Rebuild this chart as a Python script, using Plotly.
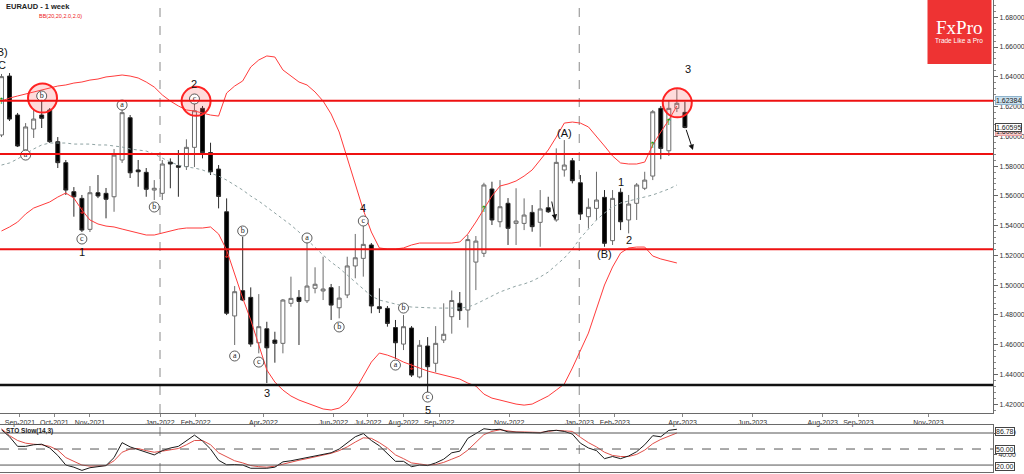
import pandas as pd
import plotly.graph_objects as go

# ---------------- data ----------------
start = pd.Timestamp("2021-08-16")
dates = pd.date_range(start, periods=86, freq="7D")

opens = [1.6009,1.6405,1.6143,1.5908,1.6049,1.6143,1.6177,1.5964,1.5823,1.5628,
         1.5583,1.5375,1.5621,1.5617,1.5594,1.5841,1.6125,1.5774,1.5758,1.5639,
         1.5617,1.5827,1.5803,1.5797,1.5926,1.6188,1.5891,1.5780,1.5493,1.4793,
         1.4963,1.4918,1.4613,1.4707,1.4631,1.4609,1.4878,1.4918,1.4895,1.4979,
         1.4961,1.4983,1.4848,1.4934,1.5129,1.5180,1.5270,1.4855,1.4844,1.4715,
         1.4604,1.4712,1.4383,1.4591,1.4475,1.4631,1.4788,1.4878,1.4833,1.5155,
         1.5214,1.5646,1.5426,1.5550,1.5415,1.5415,1.5489,1.5422,1.5520,1.5438,
         1.5774,1.5836,1.5688,1.5460,1.5516,1.5590,1.5299,1.5624,1.5438,1.5550,
         1.5651,1.5733,1.6188,1.5903,1.6188,1.6161]
highs = [1.6419,1.6425,1.6157,1.6089,1.6177,1.6251,1.6190,1.5995,1.5841,1.5659,
         1.5606,1.5666,1.5740,1.5653,1.5915,1.6182,1.6143,1.5841,1.5787,1.5706,
         1.5841,1.5852,1.5908,1.5980,1.6264,1.6204,1.5957,1.5807,1.5583,1.4994,
         1.5325,1.4985,1.4940,1.4754,1.4687,1.4907,1.5057,1.4967,1.5292,1.5120,
         1.5191,1.5008,1.4994,1.5191,1.5344,1.5397,1.5283,1.4979,1.4860,1.4766,
         1.4799,1.4725,1.4631,1.4651,1.4725,1.4878,1.4964,1.4954,1.5337,1.5330,
         1.5688,1.5695,1.5706,1.5585,1.5651,1.5583,1.5538,1.5639,1.5594,1.5919,
         1.5975,1.5854,1.5740,1.5583,1.5762,1.5639,1.5639,1.5651,1.5606,1.5686,
         1.5762,1.6177,1.6204,1.6244,1.6316,1.6233]
lows = [1.5995,1.6103,1.5928,1.5895,1.5989,1.6056,1.5955,1.5787,1.5606,1.5460,
        1.5357,1.5357,1.5585,1.5449,1.5493,1.5821,1.5720,1.5661,1.5594,1.5572,
        1.5572,1.5651,1.5594,1.5774,1.5794,1.5852,1.5740,1.5516,1.4799,1.4598,
        1.4893,1.4586,1.4542,1.4342,1.4479,1.4542,1.4855,1.4598,1.4880,1.4945,
        1.4900,1.4766,1.4777,1.4913,1.5046,1.5057,1.4811,1.4813,1.4721,1.4504,
        1.4564,1.4383,1.4374,1.4278,1.4414,1.4611,1.4674,1.4766,1.4715,1.4967,
        1.5189,1.5404,1.5389,1.5270,1.5270,1.5370,1.5359,1.5258,1.5485,1.5426,
        1.5729,1.5684,1.5438,1.5382,1.5438,1.5258,1.5270,1.5370,1.5348,1.5438,
        1.5639,1.5706,1.5846,1.5868,1.6163,1.6054]
closes = [1.6401,1.6116,1.5935,1.6063,1.6116,1.6121,1.5964,1.5823,1.5639,1.5594,
          1.5370,1.5621,1.5599,1.5577,1.5874,1.6159,1.5755,1.5762,1.5644,1.5651,
          1.5814,1.5814,1.5792,1.5926,1.6172,1.5890,1.5762,1.5596,1.4811,1.4956,
          1.4900,1.4604,1.4721,1.4579,1.4609,1.4900,1.4911,1.4891,1.4994,1.5006,
          1.4974,1.4866,1.4913,1.5129,1.5184,1.5274,1.4860,1.4842,1.4743,1.4613,
          1.4721,1.4396,1.4596,1.4452,1.4609,1.4670,1.4897,1.4829,1.5306,1.5296,
          1.5673,1.5438,1.5527,1.5382,1.5431,1.5471,1.5393,1.5512,1.5493,1.5825,
          1.5807,1.5702,1.5478,1.5523,1.5572,1.5281,1.5583,1.5426,1.5545,1.5673,
          1.5706,1.6165,1.5919,1.6188,1.6222,1.60595]

bb_upper = [1.6237,1.6257,1.6271,1.6284,1.6298,1.6311,1.6325,1.6338,1.6345,1.6358,
            1.6365,1.6378,1.6385,1.6399,1.6405,1.6412,1.6405,1.6392,1.6365,1.6331,
            1.6278,1.6237,1.6204,1.6177,1.6170,1.6157,1.6143,1.6136,1.6291,1.6338,
            1.6372,1.6466,1.6513,1.6540,1.6533,1.6446,1.6405,1.6365,1.6345,1.6298,
            1.6237,1.6150,1.6029,1.5854,1.5666,1.5505,1.5357,1.5250,1.5243,1.5243,
            1.5250,1.5270,1.5283,1.5283,1.5283,1.5283,1.5283,1.5290,1.5344,1.5424,
            1.5512,1.5599,1.5666,1.5680,1.5700,1.5733,1.5774,1.5841,1.5908,1.5995,
            1.6089,1.6096,1.6089,1.6063,1.5995,1.5935,1.5868,1.5821,1.5814,1.5814,
            1.5827,1.5942,1.6029,1.6110,1.6204]
bb_middle = [1.5807,1.5821,1.5848,1.5881,1.5915,1.5942,1.5955,1.5955,1.5955,1.5948,
             1.5948,1.5948,1.5942,1.5942,1.5935,1.5928,1.5915,1.5908,1.5901,1.5881,
             1.5854,1.5827,1.5807,1.5794,1.5787,1.5774,1.5753,1.5733,1.5706,1.5673,
             1.5639,1.5599,1.5565,1.5525,1.5485,1.5444,1.5404,1.5357,1.5303,1.5250,
             1.5202,1.5155,1.5115,1.5068,1.5021,1.4974,1.4927,1.4900,1.4887,1.4873,
             1.4860,1.4853,1.4850,1.4846,1.4846,1.4846,1.4846,1.4846,1.4853,1.4873,
             1.4900,1.4927,1.4954,1.4974,1.4994,1.5008,1.5028,1.5055,1.5088,1.5135,
             1.5182,1.5243,1.5317,1.5377,1.5438,1.5485,1.5525,1.5552,1.5565,1.5579,
             1.5592,1.5606,1.5626,1.5646,1.5673]
bb_lower = [1.5364,1.5391,1.5424,1.5478,1.5518,1.5538,1.5559,1.5592,1.5619,1.5585,
            1.5505,1.5438,1.5411,1.5397,1.5391,1.5377,1.5364,1.5350,1.5337,1.5337,
            1.5350,1.5364,1.5377,1.5384,1.5384,1.5384,1.5391,1.5344,1.5236,1.5068,
            1.4913,1.4766,1.4598,1.4430,1.4349,1.4295,1.4255,1.4228,1.4208,1.4188,
            1.4168,1.4161,1.4174,1.4215,1.4295,1.4389,1.4483,1.4544,1.4530,1.4510,
            1.4483,1.4463,1.4443,1.4423,1.4409,1.4396,1.4383,1.4369,1.4342,1.4322,
            1.4268,1.4241,1.4228,1.4215,1.4201,1.4194,1.4201,1.4228,1.4255,1.4295,
            1.4336,1.4443,1.4557,1.4678,1.4840,1.5001,1.5122,1.5216,1.5250,1.5256,
            1.5256,1.5196,1.5176,1.5162,1.5149]

sto_k = [86,73,55,55,58,59,52,38,20,16,
         10,15,17,19,34,62,54,49,44,39,
         47,52,55,66,76,65,50,29,20.5,21,
         20,14,14,14,16,26,28,31,34,37,
         40,43,50,62,73,79,66,56,41,27,
         27,17,20,19,24,31,43,46,70,79,
         88,86,87,82,82,81,80.5,80,84,85,
         83,78,61,52,47,32,36,32,37,45,
         58,75,73,85,87]
sto_d = [88,75,66,61,59,58,55,48,34,27,
         20,18,18,19,28,44,50,51,47,44,
         46,48,51,58,66,66,58,43,35,28,
         24,19,17,16,18,22,26,29,32,35,
         38,42,47,54,63,71,70,62,52,39,
         32,24,22,20,21,25,31,37,48,62,
         77,83,86,84,82,82,81,81,83,85,
         84,83,72,62,54,44,38,36,36,40,
         48,60,68,74,80]

levels_red = [1.62384, 1.5881, 1.5241]
levels_black = [1.4329]
sto_levels = [20, 80]
sto_mid = [50]
separators = ["2022-01-01", "2023-01-01"]

tick_dates = ["2021-09-01","2021-10-01","2021-11-01","2022-01-01","2022-02-01","2022-04-01",
              "2022-06-01","2022-07-01","2022-08-01","2022-09-01","2022-11-01","2023-01-01",
              "2023-02-01","2023-04-01","2023-06-01","2023-08-01","2023-09-01","2023-11-01"]
tick_labels = ["Sep-2021","Oct-2021","Nov-2021","Jan-2022","Feb-2022","Apr-2022",
               "Jun-2022","Jul-2022","Aug-2022","Sep-2022","Nov-2022","Jan-2023",
               "Feb-2023","Apr-2023","Jun-2023","Aug-2023","Sep-2023","Nov-2023"]

# wave labels: (text, bar position, price, anchor)
wave_labels = [("(B)", 1.0, 1.6567, "right"), ("C", 0.0, 1.6479, "center"),
               ("1", 10, 1.5223, "center"), ("2", 24, 1.6352, "center"),
               ("3", 33, 1.4275, "center"), ("4", 45, 1.5518, "center"),
               ("5", 53, 1.4161, "center"), ("(A)", 70, 1.6022, "center"),
               ("(B)", 75, 1.5209, "center"), ("1", 77, 1.5693, "center"),
               ("2", 78, 1.5303, "center"), ("3", 85.4, 1.6452, "center")]
# circled minor labels: (letter, bar position, price)
minor_labels = [("b", 5, 1.6271), ("a", 3, 1.5874), ("a", 15, 1.6210), ("b", 19, 1.5525),
                ("c", 10, 1.5310), ("c", 24, 1.6251), ("b", 30, 1.5364), ("a", 29, 1.4524),
                ("c", 32, 1.4483), ("a", 38, 1.5317), ("b", 42, 1.4719), ("c", 45, 1.5431),
                ("b", 50, 1.4846), ("a", 49, 1.4463), ("c", 53, 1.4248)]
red_circles = [(5.1, 1.6257), (24.2, 1.6235), (84.05, 1.6225)]
up_arrows = [(0, 1.6233), (60, 1.5505), (81, 1.5935), (83, 1.6092)]
down_arrows = [(10, 1.5493), (28, 1.5196), (51, 1.4448)]
black_arrows = [((68.4, 1.5572), (68.9, 1.5438)), ((85.1, 1.6054), (86.0, 1.5908))]


def bx(k):
    return (start + pd.Timedelta(days=7 * k)).strftime("%Y-%m-%d %H:%M")


# ---------------- figure ----------------
W, H = 1024, 474
R = 31
PW = W - R
main_bottom = 413
sub_top, sub_bottom = 425, 472

fig = go.Figure()

fig.add_trace(go.Candlestick(
    x=dates, open=opens, high=highs, low=lows, close=closes,
    increasing=dict(line=dict(color="#6a6a6a", width=1), fillcolor="#ffffff"),
    decreasing=dict(line=dict(color="#2a2a2a", width=1), fillcolor="#000000"),
    whiskerwidth=0, showlegend=False, hoverinfo="skip", xaxis="x", yaxis="y"))

nb = len(bb_upper)
fig.add_trace(go.Scatter(x=dates[:nb], y=bb_upper, mode="lines",
                         line=dict(color="#ff3b3b", width=1), hoverinfo="skip", showlegend=False))
fig.add_trace(go.Scatter(x=dates[:nb], y=bb_lower, mode="lines",
                         line=dict(color="#ff3b3b", width=1), hoverinfo="skip", showlegend=False))
fig.add_trace(go.Scatter(x=dates[:nb], y=bb_middle, mode="lines",
                         line=dict(color="#8fa3a3", width=1, dash="dot"), hoverinfo="skip", showlegend=False))

# red highlight circles
fig.add_trace(go.Scatter(x=[bx(c[0]) for c in red_circles], y=[c[1] for c in red_circles],
                         mode="markers", hoverinfo="skip", showlegend=False,
                         marker=dict(size=29, color="rgba(255,90,90,0.22)",
                                     line=dict(color="#ff2222", width=2))))

# circled minor wave labels
fig.add_trace(go.Scatter(x=[bx(m[1]) for m in minor_labels], y=[m[2] for m in minor_labels],
                         mode="markers+text", text=[m[0] for m in minor_labels],
                         textposition="middle center",
                         textfont=dict(size=8, color="#222", family="Liberation Serif"),
                         marker=dict(size=10, color="rgba(255,255,255,0.9)",
                                     line=dict(color="#333", width=0.8)),
                         hoverinfo="skip", showlegend=False))

# small arrows
fig.add_trace(go.Scatter(x=[bx(a[0]) for a in up_arrows], y=[a[1] for a in up_arrows],
                         mode="text", text=["↑"] * len(up_arrows),
                         textfont=dict(size=9, color="#11a011", family="DejaVu Sans"),
                         hoverinfo="skip", showlegend=False))
fig.add_trace(go.Scatter(x=[bx(a[0]) for a in down_arrows], y=[a[1] for a in down_arrows],
                         mode="text", text=["↓"] * len(down_arrows),
                         textfont=dict(size=9, color="#dd2222", family="DejaVu Sans"),
                         hoverinfo="skip", showlegend=False))

# stochastic
nk = len(sto_k)
fig.add_trace(go.Scatter(x=dates[:nk], y=sto_d, mode="lines", xaxis="x2", yaxis="y2",
                         line=dict(color="#e0504a", width=1), hoverinfo="skip", showlegend=False))
fig.add_trace(go.Scatter(x=dates[:nk], y=sto_k, mode="lines", xaxis="x2", yaxis="y2",
                         line=dict(color="#1a1a1a", width=1), hoverinfo="skip", showlegend=False))

shapes = []
for lv in levels_red:
    shapes.append(dict(type="line", xref="paper", x0=0, x1=1, yref="y", y0=lv, y1=lv,
                       line=dict(color="#ee1111", width=2)))
for lv in levels_black:
    shapes.append(dict(type="line", xref="paper", x0=0, x1=1, yref="y", y0=lv, y1=lv,
                       line=dict(color="#111111", width=2.5)))
for lv in sto_levels:
    shapes.append(dict(type="line", xref="paper", x0=0, x1=1, yref="y2", y0=lv, y1=lv,
                       line=dict(color="#555555", width=1)))
for lv in sto_mid:
    shapes.append(dict(type="line", xref="paper", x0=0, x1=1, yref="y2", y0=lv, y1=lv,
                       line=dict(color="#555555", width=1, dash="dash")))
for s in separators:
    for yr in ["y domain", "y2 domain"]:
        shapes.append(dict(type="line", xref="x", x0=s, x1=s, yref=yr, y0=0, y1=1,
                           line=dict(color="#8a8a8a", width=1, dash="dash"), layer="below"))
# logo box
shapes.append(dict(type="rect", xref="paper", yref="paper",
                   x0=927.5 / PW, x1=991.5 / PW, y0=1 - 64 / H, y1=1,
                   fillcolor="#ee3333", line=dict(width=0)))

ann = []
for t, k, p, anc in wave_labels:
    ann.append(dict(x=bx(k), y=p, xref="x", yref="y", text=t, showarrow=False,
                    xanchor=anc, yanchor="middle",
                    font=dict(size=11, color="#111", family="Liberation Sans")))
for (k0, p0), (k1, p1) in black_arrows:
    ann.append(dict(x=bx(k1), y=p1, ax=bx(k0), ay=p0, xref="x", yref="y",
                    axref="x", ayref="y", text="", showarrow=True,
                    arrowhead=2, arrowsize=1.1, arrowwidth=1, arrowcolor="#111"))

# title / indicator names
ann.append(dict(x=4 / PW, y=1 - 6.5 / H, xref="paper", yref="paper", text="<b>EURAUD - 1 week</b>",
                showarrow=False, xanchor="left", yanchor="middle",
                font=dict(size=7.5, color="#222", family="Liberation Sans")))
ann.append(dict(x=37 / PW, y=1 - 16 / H, xref="paper", yref="paper", text="BB(20,20,2.0,2.0)",
                showarrow=False, xanchor="left", yanchor="middle",
                font=dict(size=5.5, color="#ee2222", family="Liberation Sans")))
ann.append(dict(x=4 / PW, y=1 - 431 / H, xref="paper", yref="paper", text="<b>STO Slow(14,3)</b>",
                showarrow=False, xanchor="left", yanchor="middle",
                font=dict(size=6.5, color="#222", family="Liberation Sans")))
# logo text
ann.append(dict(x=959 / PW, y=1 - 28 / H, xref="paper", yref="paper", text="FxPro",
                showarrow=False, xanchor="center", yanchor="middle",
                font=dict(size=19, color="white", family="Liberation Serif")))
ann.append(dict(x=959 / PW, y=1 - 41 / H, xref="paper", yref="paper", text="Trade Like a Pro",
                showarrow=False, xanchor="center", yanchor="middle",
                font=dict(size=6.5, color="white", family="Liberation Sans")))

# right-hand price tags
def tag(ypx, text, bg, border, fsize=7):
    return dict(x=1.0 + 2 / PW, y=1 - ypx / H, xref="paper", yref="paper", text=text,
                showarrow=False, xanchor="left", yanchor="middle", bgcolor=bg,
                bordercolor=border, borderwidth=1, borderpad=0,
                font=dict(size=fsize, color="#222", family="Liberation Sans"))

ann.append(tag(132, "1.60000", "#f6c9c9", "#e9a0a0"))
ann.append(tag(101, "1.62384", "#c9e0ee", "#8fb3cc"))
ann.append(tag(127.5, "1.60595", "#ffffff", "#444444"))
ann.append(tag(466.5, "20.00", "#ffffff", "#444444"))
ann.append(tag(449, "50.00", "#ffffff", "#444444"))
ann.append(tag(431, "86.78", "#ffffff", "#444444"))

x_left = bx(-0.187)
x_right = bx(123.32)

axis_line = "#6a6a6a"
fig.update_layout(
    width=W, height=H, margin=dict(l=0, r=R, t=0, b=0, autoexpand=False),
    paper_bgcolor="white", plot_bgcolor="white", showlegend=False,
    font=dict(family="Liberation Sans", size=7, color="#333"),
    xaxis=dict(type="date", domain=[0, 1], anchor="y", range=[x_left, x_right],
               tickvals=tick_dates, ticktext=tick_labels, ticks="outside", ticklen=3,
               tickcolor="#888", tickfont=dict(size=7, color="#333"),
               showgrid=False, zeroline=False, showline=True, mirror=True,
               linecolor=axis_line, linewidth=1, rangeslider=dict(visible=False)),
    xaxis2=dict(type="date", domain=[0, 1], anchor="y2", matches="x", range=[x_left, x_right],
                showticklabels=False, ticks="", showgrid=False, zeroline=False,
                showline=True, mirror=True, linecolor=axis_line, linewidth=1,
                rangeslider=dict(visible=False)),
    yaxis=dict(domain=[1 - main_bottom / H, 1], range=[1.4141, 1.6916], side="right",
               anchor="x", tick0=1.42, dtick=0.02, tickformat=".5f", ticks="outside",
               ticklen=4, tickcolor="#666", tickfont=dict(size=7, color="#333"),
               minor=dict(dtick=0.004, ticks="outside", ticklen=2, tickcolor="#888"),
               showgrid=False, zeroline=False, showline=True, mirror=True,
               linecolor=axis_line, linewidth=1),
    yaxis2=dict(domain=[1 - sub_bottom / H, 1 - sub_top / H], range=[7, 95], side="right",
                anchor="x2", tickvals=[40, 80], ticktext=["40.00", "80.00"], ticks="outside",
                ticklen=3, tickcolor="#666", tickfont=dict(size=7, color="#333"),
                showgrid=False, zeroline=False, showline=True, mirror=True,
                linecolor=axis_line, linewidth=1),
    shapes=shapes, annotations=ann,
)

fig.write_html("out.html",
               config={"displayModeBar": False, "staticPlot": True},
               post_script="document.body.style.margin='0';document.body.style.overflow='hidden';")
